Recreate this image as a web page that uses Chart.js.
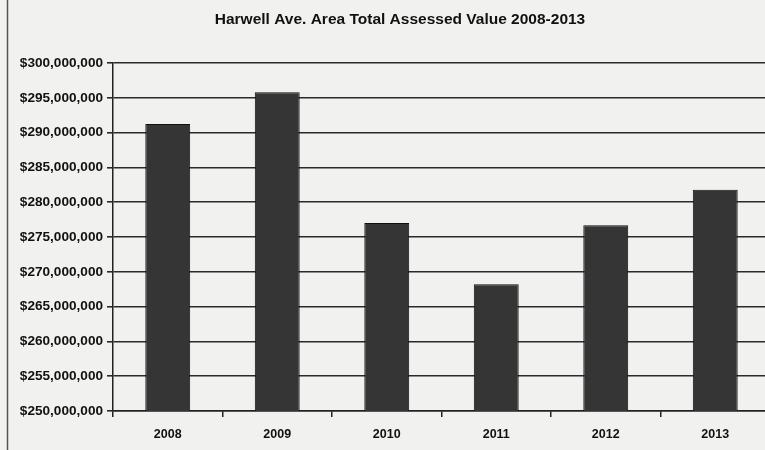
<!DOCTYPE html>
<html>
<head>
<meta charset="utf-8">
<script src="https://cdn.jsdelivr.net/npm/chart.js@4"></script>
<style>
  html, body { margin: 0; padding: 0; background: #f1f1f0; overflow: hidden; }
  #wrap { width: 772px; height: 450px; position: relative; }
</style>
</head>
<body>
<div id="wrap"><canvas id="c" width="772" height="450"></canvas></div>
<script>
const chartTitle = "Harwell Ave. Area Total Assessed Value 2008-2013";
const years = ["2008", "2009", "2010", "2011", "2012", "2013"];
const assessedValues = [291250000, 295800000, 277000000, 268200000, 276700000, 281800000];
const yMin = 250000000;
const yMax = 300000000;
const yStep = 5000000;

const FONT = "'Liberation Sans', Arial, sans-serif";

const decorPlugin = {
  id: 'decor',
  afterDraw(chart) {
    const ctx = chart.ctx;
    ctx.save();
    ctx.fillStyle = '#111';
    ctx.font = 'bold 15.5px ' + FONT;
    ctx.textAlign = 'center';
    ctx.textBaseline = 'middle';
    ctx.fillText(chartTitle, 400, 20);
    ctx.strokeStyle = '#555';
    ctx.lineWidth = 1.5;
    ctx.beginPath();
    ctx.moveTo(7.5, 0);
    ctx.lineTo(7.5, 450);
    ctx.stroke();
    ctx.restore();
  }
};

new Chart(document.getElementById('c'), {
  type: 'bar',
  data: {
    labels: years,
    datasets: [{
      data: assessedValues,
      backgroundColor: '#353535',
      borderColor: '#111',
      borderWidth: 1,
      barPercentage: 0.41,
      categoryPercentage: 1.0
    }]
  },
  options: {
    responsive: false,
    animation: false,
    plugins: { legend: { display: false }, title: { display: false }, tooltip: { enabled: false } },
    layout: { padding: { top: 63, right: 2, left: 0, bottom: 0 } },
    scales: {
      x: {
        offset: true,
        grid: { offset: true, drawOnChartArea: false, drawTicks: true, tickLength: 6, color: '#222', lineWidth: 1.5 },
        border: { display: true, color: '#222', width: 1.5 },
        ticks: { color: '#111', font: { family: FONT, size: 12.5, weight: 'bold' }, padding: 10 },
        afterFit(scale) { scale.height = 39; }
      },
      y: {
        min: yMin,
        max: yMax,
        grid: { color: '#2a2a2a', lineWidth: 1.6, tickLength: 6, drawTicks: true },
        border: { display: true, color: '#222', width: 1.5 },
        ticks: {
          stepSize: yStep,
          color: '#111',
          padding: 4,
          font: { family: FONT, size: 13.6, weight: 'bold' },
          callback: v => '$' + Number(v).toLocaleString('en-US')
        },
        afterFit(scale) { scale.width = 113; }
      }
    }
  },
  plugins: [decorPlugin]
});
</script>
</body>
</html>
